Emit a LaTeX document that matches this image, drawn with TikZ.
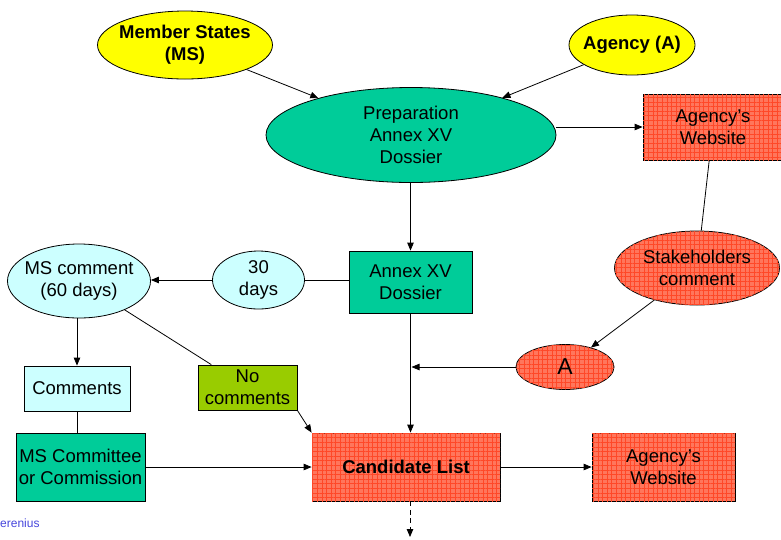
\documentclass[tikz,border=0pt]{standalone}
\usepackage{fontspec}
\setmainfont{Liberation Sans}
\usetikzlibrary{shapes.geometric,arrows.meta,patterns.meta}

\definecolor{tealfill}{RGB}{0,204,153}
\definecolor{yellowfill}{RGB}{255,255,0}
\definecolor{cyanfill}{RGB}{204,255,255}
\definecolor{olivefill}{RGB}{153,204,0}
\definecolor{redbase}{RGB}{255,118,92}
\definecolor{redgrid}{RGB}{255,72,40}
\definecolor{footblue}{RGB}{70,70,220}

\tikzset{
  every node/.style={font=\fontsize{18.5}{22}\selectfont, align=center, inner sep=0pt},
  boldtext/.style={font=\fontsize{18.5}{22}\selectfont\bfseries},
  % ovals take their size from minimum width/height only
  oval/.style={ellipse, draw, line width=0.8pt, inner sep=-14pt},
  box/.style={rectangle, draw, line width=0.8pt},
  hatched/.style={fill=redbase,
    postaction={pattern={Lines[distance=4.6pt,angle=0,line width=0.7pt]}, pattern color=redgrid},
    postaction={pattern={Lines[distance=4.6pt,angle=90,line width=0.7pt]}, pattern color=redgrid}},
  conn/.style={line width=0.8pt},
  arr/.style={conn, -{Triangle[length=8pt,width=6.5pt]}},
}

\begin{document}
\begin{tikzpicture}[x=1pt,y=-1pt]
\useasboundingbox (0,0) rectangle (781,539);

% upper row: who prepares the dossier
\node[oval, fill=yellowfill, minimum width=175, minimum height=68, boldtext]
  (ms) at (185,45) {Member States\\(MS)};
\node[oval, fill=yellowfill, minimum width=126, minimum height=60, boldtext]
  (agency) at (632,45) {Agency (A)};
\node[oval, fill=tealfill, minimum width=290, minimum height=95]
  (prep) at (411,135) {Preparation\\Annex XV\\Dossier};

% public consultation branch
\node[box, hatched, minimum width=140, minimum height=66]
  (web1) at (713,127) {Agency's\\Website};
\node[oval, hatched, minimum width=165, minimum height=74]
  (stake) at (697,268) {Stakeholders\\comment};
\node[oval, hatched, minimum width=98, minimum height=45, font=\fontsize{23}{26}\selectfont]
  (aoval) at (565,367) {A};

% dossier and member state consultation
\node[box, fill=tealfill, minimum width=123, minimum height=62]
  (dossier) at (410.5,282) {Annex XV\\Dossier};
\node[oval, fill=cyanfill, minimum width=92, minimum height=58]
  (days) at (258.5,280) {30\\days};
\node[oval, fill=cyanfill, minimum width=143, minimum height=74]
  (mscomm) at (79,281) {MS comment\\(60 days)};
\node[box, fill=cyanfill, minimum width=106, minimum height=45]
  (comments) at (77,388.5) {Comments};
\node[box, fill=olivefill, minimum width=99, minimum height=45]
  (nocomm) at (247.5,387.5) {No\\comments};
\node[box, fill=tealfill, minimum width=129, minimum height=68]
  (committee) at (80.5,467) {MS Committee\\or Commission};

% outcome
\node[box, hatched, minimum width=188, minimum height=68, boldtext]
  (cand) at (406,467) {Candidate List};
\node[box, hatched, minimum width=143, minimum height=68]
  (web2) at (663.5,467) {Agency's\\Website};

\coordinate (tail) at (410,537);
\coordinate (join) at (410,367);

\node[font=\fontsize{12}{14}\selectfont, text=footblue, anchor=west] (foot) at (0,523) {erenius};

% connectors
\draw[arr] (ms) -- (prep);
\draw[arr] (agency) -- (prep);
\draw[arr] (prep.east |- web1) -- (web1.west);
\draw[conn] (web1) -- (stake);
\draw[arr] (stake) -- (aoval);
\draw[arr] (aoval.west) -- ([xshift=1.5pt]join);
\draw[arr] (prep.south -| dossier.north) -- (dossier.north);
\draw[arr] (dossier.south) -- (dossier.south |- cand.north);
\draw[conn] (dossier.west |- days) -- (days.east);
\draw[arr] (days.west) -- (mscomm.east |- days);
\draw[arr] (comments.north |- mscomm.south) -- (comments.north);
\draw[conn] (comments.south) -- (committee.north -| comments);
\draw[conn] (mscomm) -- (nocomm);
\draw[arr] (nocomm.south east) -- (cand.north west);
\draw[arr] (committee.east) -- (cand.west |- committee.east);
\draw[arr] (cand.east) -- (web2.west);
\draw[arr, dash pattern=on 5pt off 3.5pt] (cand.south -| tail) -- (tail);
\end{tikzpicture}
\end{document}
